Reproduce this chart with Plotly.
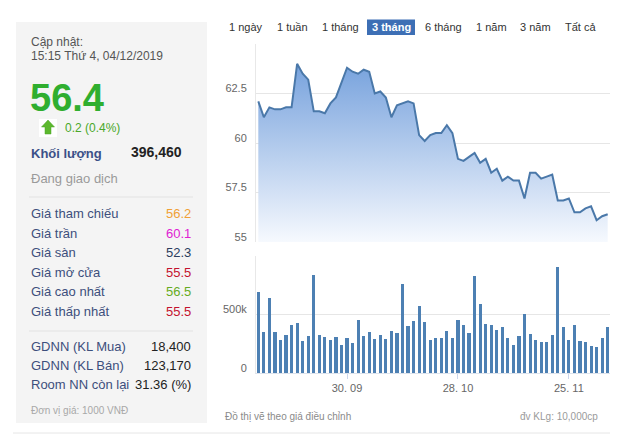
import pandas as pd
import plotly.graph_objects as go

# ---------------- data ----------------
start_date = "2019-09-06"
end_date = "2019-12-04"
dates = [d + pd.Timedelta(hours=12) for d in pd.bdate_range(start_date, end_date)]

prices = [62.1, 61.3, 61.8, 61.7, 61.7, 61.8, 61.8, 64.0, 63.5, 63.2,
          61.6, 61.6, 61.5, 62.0, 62.3, 63.0, 63.8, 63.6, 63.5, 63.7,
          63.6, 62.5, 62.6, 62.3, 61.3, 61.9, 62.0, 62.1, 62.0, 60.4,
          60.1, 60.4, 60.5, 60.5, 60.9, 60.5, 59.2, 59.1, 59.3, 59.5,
          59.0, 59.2, 58.5, 58.7, 58.1, 58.3, 58.1, 58.1, 57.2, 58.5,
          58.5, 58.2, 58.3, 58.4, 57.1, 57.1, 57.2, 56.5, 56.5, 56.7,
          56.8, 56.1, 56.3, 56.4]

volumes_k = [691, 353, 645, 353, 280, 321, 408, 425, 272, 315,
             835, 321, 306, 286, 312, 243, 298, 257, 457, 315,
             353, 289, 324, 289, 361, 344, 763, 402, 442, 572,
             434, 280, 301, 295, 358, 295, 454, 413, 341, 827,
             592, 422, 413, 364, 390, 295, 240, 318, 503, 335,
             286, 269, 263, 327, 908, 393, 280, 408, 272, 263,
             231, 223, 301, 396.46]
volumes = [v * 1000 for v in volumes_k]

price_ticks = [55, 57.5, 60, 62.5, 65]
price_tick_text = ["55", "57.5", "60", "62.5", ""]
vol_ticks = [0, 500000, 1000000]
vol_tick_text = ["0", "500k", ""]
x_tick_dates = ["2019-09-30 12:00", "2019-10-28 12:00", "2019-11-25 12:00"]
x_tick_text = ["30. 09", "28. 10", "25. 11"]

range_buttons = ["1 ngày", "1 tuần", "1 tháng", "3 tháng", "6 tháng", "1 năm", "3 năm", "Tất cả"]
button_centers = [245.5, 292, 340, 391, 443, 491, 535.5, 580.5]
active_button = "3 tháng"

info_rows = [("Giá tham chiếu", "56.2", "#f0a035"),
             ("Giá trần", "60.1", "#e021d2"),
             ("Giá sàn", "52.3", "#2c3d5e"),
             ("Giá mở cửa", "55.5", "#c4122e"),
             ("Giá cao nhất", "56.5", "#66ab22"),
             ("Giá thấp nhất", "55.5", "#c4122e")]
foreign_rows = [("GDNN (KL Mua)", "18,400"),
                ("GDNN (KL Bán)", "123,170"),
                ("Room NN còn lại", "31.36 (%)")]

# ---------------- layout helpers ----------------
W, H = 630, 443
FONT = "Liberation Sans, Arial, sans-serif"


def px(x):
    return x / W


def py(y):
    return 1 - y / H


annotations = []


def ann(text, x, y, size=13, color="#333", xanchor="left"):
    annotations.append(dict(text=text, x=px(x), y=py(y), xref="paper", yref="paper",
                            xanchor=xanchor, yanchor="middle", showarrow=False,
                            font=dict(family=FONT, size=size, color=color)))


shapes = []
# left panel background
shapes.append(dict(type="rect", xref="paper", yref="paper", x0=px(16), x1=px(207),
                   y0=py(423), y1=py(22), fillcolor="#f4f4f4", line=dict(width=0), layer="below"))
# separators
for yy in (197, 331):
    shapes.append(dict(type="line", xref="paper", yref="paper", x0=px(29), x1=px(193),
                       y0=py(yy), y1=py(yy), line=dict(color="#e2e2e2", width=1)))
shapes.append(dict(type="line", xref="paper", yref="paper", x0=px(13), x1=px(610),
                   y0=py(433), y1=py(433), line=dict(color="#e6e6e6", width=1)))
# up arrow icon
shapes.append(dict(type="rect", xref="paper", yref="paper", x0=px(39), x1=px(57),
                   y0=py(137), y1=py(119), fillcolor="#ffffff", line=dict(width=0)))
ax = lambda x: px(x)
ay = lambda y: py(y)
arrow_path = (f"M {ax(48)} {ay(120)} L {ax(54.5)} {ay(127)} L {ax(51)} {ay(127)} "
              f"L {ax(51)} {ay(134)} L {ax(45)} {ay(134)} L {ax(45)} {ay(127)} "
              f"L {ax(41.5)} {ay(127)} Z")
shapes.append(dict(type="path", xref="paper", yref="paper", path=arrow_path,
                   fillcolor="#5cb82e", line=dict(color="#4aa526", width=0.5)))
# active range button
shapes.append(dict(type="rect", xref="paper", yref="paper", x0=px(367), x1=px(415),
                   y0=py(35), y1=py(19.5), fillcolor="#3d6fb5", line=dict(width=0)))

# ---------------- left panel text ----------------
ann("Cập nhật:", 29, 42, 12, "#555")
ann("15:15 Thứ 4, 04/12/2019", 29, 56, 12, "#555")
ann("<b>56.4</b>", 28, 98, 38, "#2fae2f")
ann("0.2 (0.4%)", 63, 127.5, 12, "#4aa82a")
ann("<b>Khối lượng</b>", 29, 153, 13, "#3b5088")
ann("<b>396,460</b>", 184, 152, 14, "#222", xanchor="right")
ann("Đang giao dịch", 29, 178, 13, "#9a9a9a")
row_y = [214, 233.3, 252.7, 272.3, 291.7, 311]
for (lab, val, col), yy in zip(info_rows, row_y):
    ann(lab, 29, yy, 13, "#3d4f7c")
    ann(val, 193, yy, 13, col, xanchor="right")
frow_y = [346, 365, 384.3]
for (lab, val), yy in zip(foreign_rows, frow_y):
    ann(lab, 29, yy, 13, "#3d4f7c")
    ann(val, 193, yy, 13, "#222", xanchor="right")
ann("Đơn vị giá: 1000 VNĐ", 29, 410, 10, "#a8a8a8")

# ---------------- range buttons ----------------
for lab, cx in zip(range_buttons, button_centers):
    if lab == active_button:
        ann("<b>" + lab + "</b>", cx, 27.5, 11, "#ffffff", xanchor="center")
    else:
        ann(lab, cx, 27.5, 11, "#333", xanchor="center")

# bottom notes
ann("Đồ thị vẽ theo giá điều chỉnh", 223, 416, 10, "#8a8a8a")
ann("đv KLg: 10,000cp", 600, 416, 10, "#9a9a9a", xanchor="right")

# ---------------- traces ----------------
fig = go.Figure()
fig.add_trace(go.Scatter(
    x=dates, y=prices, mode="lines", xaxis="x", yaxis="y",
    line=dict(color="#4a78a9", width=2),
    fill="tozeroy",
    fillgradient=dict(type="vertical", start=55, stop=64.2,
                      colorscale=[[0, "rgba(246,249,254,1)"], [1, "rgba(116,160,220,1)"]]),
    hoverinfo="skip", showlegend=False))
fig.add_trace(go.Bar(
    x=dates, y=volumes, xaxis="x2", yaxis="y2",
    marker=dict(color="#4d80b3", line=dict(width=0)),
    width=0.56 * 86400000, hoverinfo="skip", showlegend=False))

xdom = [px(256), px(610)]
xrange_ = ["2019-09-06 02:00", "2019-12-04 22:00"]
rb = [dict(bounds=["sat", "mon"])]

fig.update_layout(
    width=W, height=H, margin=dict(l=0, r=0, t=0, b=0),
    paper_bgcolor="white", plot_bgcolor="white",
    font=dict(family=FONT, color="#666"),
    annotations=annotations, shapes=shapes,
    bargap=0,
    xaxis=dict(domain=xdom, range=xrange_, rangebreaks=rb, showticklabels=False,
               showgrid=False, zeroline=False, ticks="", anchor="y"),
    yaxis=dict(domain=[py(242), py(44)], range=[55, 65], tickvals=price_ticks,
               ticktext=price_tick_text, showgrid=True, gridcolor="#e6e6e6", gridwidth=1,
               zeroline=False, showline=True, linecolor="#e8e8e8", ticks="",
               ticklabelstandoff=6, ticklabelshift=-5,
               tickfont=dict(size=11, color="#666"), anchor="x"),
    xaxis2=dict(domain=xdom, range=xrange_, rangebreaks=rb, tickvals=x_tick_dates,
                ticktext=x_tick_text, showgrid=False, zeroline=False, showline=True,
                linecolor="#dde3ec", ticks="outside", ticklen=5, tickcolor="#ccd6eb",
                ticklabelstandoff=0,
                tickfont=dict(size=11, color="#666"), anchor="y2"),
    yaxis2=dict(domain=[py(373), py(256)], range=[0, 1000000], tickvals=vol_ticks,
                ticktext=vol_tick_text, showgrid=True, gridcolor="#e6e6e6", gridwidth=1,
                zeroline=False, showline=True, linecolor="#e8e8e8", ticks="",
                ticklabelstandoff=6, ticklabelshift=-5,
                tickfont=dict(size=11, color="#666"), anchor="x2"),
)

post = ("document.documentElement.style.margin='0';"
        "document.documentElement.style.padding='0';"
        "document.documentElement.style.overflow='hidden';"
        "document.body.style.margin='0';document.body.style.padding='0';"
        "document.body.style.overflow='hidden';")
fig.write_html("out.html", config={"displayModeBar": False}, post_script=post)
